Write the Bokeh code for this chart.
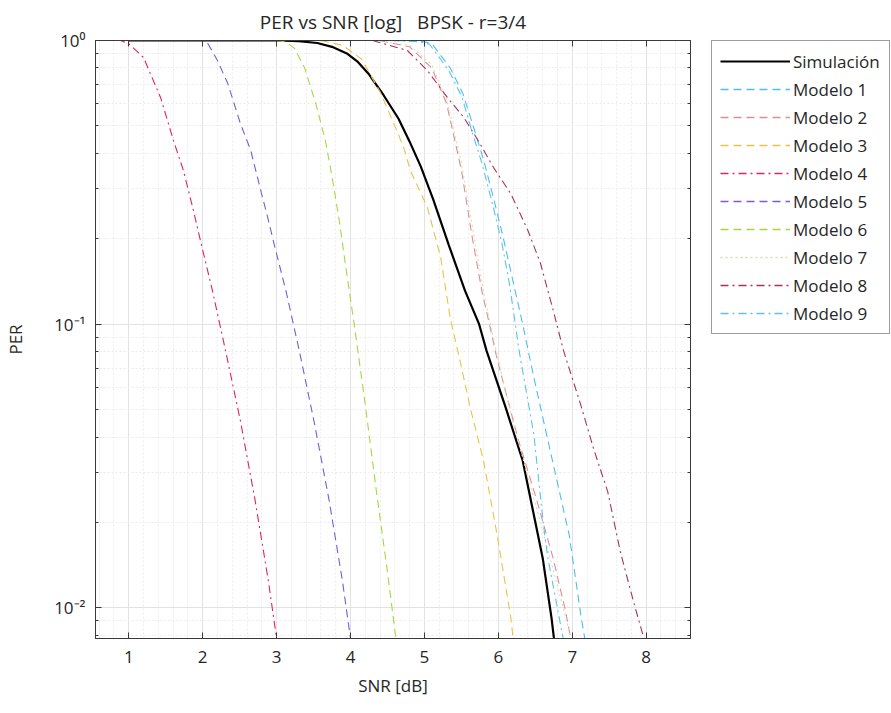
from bokeh.plotting import figure
from bokeh.layouts import row
from bokeh.models import (LinearAxis, LogAxis, FixedTicker, SingleIntervalTicker,
                          CustomJSTickFormatter, Legend, LegendItem, Range1d)
from bokeh.embed import file_html
from bokeh.resources import INLINE

# ---------------- data ----------------
sim_x = [1.0, 3.0, 3.3, 3.55, 3.75, 3.95, 4.1, 4.25, 4.45, 4.65, 4.8, 4.95, 5.12, 5.33, 5.55, 5.74, 5.84, 6.1, 6.33, 6.6, 6.72, 6.78]
sim_y = [1.0, 1.0, 0.995, 0.98, 0.95, 0.9, 0.84, 0.76, 0.64, 0.53, 0.44, 0.36, 0.275, 0.19, 0.131, 0.1, 0.0807, 0.0508, 0.033, 0.015, 0.0092, 0.0068]

m1_x = [4.6, 4.95, 5.1, 5.35, 5.52, 5.66, 5.8, 5.94, 6.07, 6.19, 6.33, 6.48, 6.7, 6.96, 7.12, 7.2]
m1_y = [1.0, 0.995, 0.976, 0.80, 0.65, 0.50, 0.38, 0.275, 0.2, 0.145, 0.1, 0.065, 0.036, 0.018, 0.0093, 0.007]

m2_x = [4.4, 4.8, 5.1, 5.3, 5.5, 5.65, 5.78, 5.88, 5.98, 6.26, 6.52, 6.74, 6.9, 6.98, 7.05]
m2_y = [1.0, 0.95, 0.8, 0.6, 0.35, 0.2, 0.13, 0.1, 0.076, 0.04, 0.024, 0.015, 0.01, 0.0078, 0.0068]

m3_x = [3.6, 3.9, 4.15, 4.4, 4.6, 4.72, 4.81, 5.04, 5.22, 5.35, 5.49, 5.62, 5.80, 5.99, 6.17, 6.2, 6.25]
m3_y = [1.0, 0.96, 0.86, 0.66, 0.5, 0.42, 0.348, 0.258, 0.172, 0.105, 0.0726, 0.0508, 0.033, 0.0177, 0.0092, 0.0078, 0.0065]

m4_x = [0.6, 0.888, 0.997, 1.20, 1.43, 1.605, 1.74, 1.876, 1.97, 2.13, 2.31, 2.51, 2.71, 2.89, 3.0, 3.08]
m4_y = [1.0, 1.0, 0.976, 0.871, 0.63, 0.444, 0.348, 0.251, 0.197, 0.132, 0.0806, 0.0457, 0.0239, 0.0124, 0.0078, 0.0055]

m5_x = [1.9, 2.0, 2.07, 2.2, 2.34, 2.51, 2.65, 2.78, 2.88, 2.97, 3.13, 3.31, 3.51, 3.71, 3.89, 4.0, 4.08]
m5_y = [1.0, 1.0, 0.976, 0.85, 0.705, 0.51, 0.41, 0.30, 0.238, 0.19, 0.13, 0.08, 0.045, 0.024, 0.0125, 0.0078, 0.0055]

m6_x = [3.0, 3.12, 3.24, 3.38, 3.53, 3.66, 3.76, 3.85, 3.95, 4.05, 4.2, 4.34, 4.49, 4.62, 4.68]
m6_y = [1.0, 0.99, 0.94, 0.80, 0.60, 0.444, 0.32, 0.23, 0.15, 0.1, 0.052, 0.027, 0.014, 0.0076, 0.006]

m7_x = [4.4, 4.8, 5.1, 5.3, 5.5, 5.65, 5.8, 5.95, 6.2, 6.45, 6.7, 6.9, 7.0]
m7_y = [1.0, 0.96, 0.82, 0.62, 0.37, 0.22, 0.13, 0.085, 0.045, 0.026, 0.015, 0.0095, 0.0075]

m8_x = [4.3, 4.77, 5.04, 5.31, 5.53, 5.72, 5.94, 6.17, 6.40, 6.57, 6.75, 6.88, 7.11, 7.29, 7.48, 7.65, 7.83, 7.97, 8.02]
m8_y = [1.0, 0.922, 0.784, 0.63, 0.537, 0.447, 0.355, 0.288, 0.214, 0.164, 0.11, 0.081, 0.0525, 0.0363, 0.0257, 0.0158, 0.0105, 0.0078, 0.0068]

m9_x = [4.55, 4.93, 5.07, 5.33, 5.51, 5.64, 5.78, 5.92, 6.05, 6.15, 6.23, 6.28, 6.48, 6.61, 6.67, 6.85, 6.95]
m9_y = [1.0, 0.99, 0.97, 0.784, 0.63, 0.481, 0.368, 0.266, 0.192, 0.139, 0.1, 0.081, 0.041, 0.0197, 0.015, 0.0085, 0.0062]

x_ticks = [1, 2, 3, 4, 5, 6, 7, 8]
y_ticks = [0.01, 0.1, 1.0]
y_minor = [m * d for d in (0.001, 0.01, 0.1) for m in range(2, 10)]

series = [
    ("Simulación", sim_x, sim_y, "#000000", 2.2, "solid"),
    ("Modelo 1", m1_x, m1_y, "#4DBEEE", 1.1, "8 5"),
    ("Modelo 2", m2_x, m2_y, "#D98E9A", 1.1, "8 5"),
    ("Modelo 3", m3_x, m3_y, "#EDC04A", 1.1, "8 5"),
    ("Modelo 4", m4_x, m4_y, "#E0245E", 1.1, "8 4 2 4"),
    ("Modelo 5", m5_x, m5_y, "#7B5BD6", 1.1, "8 5"),
    ("Modelo 6", m6_x, m6_y, "#A9D640", 1.1, "8 5"),
    ("Modelo 7", m7_x, m7_y, "#DCDCB0", 1.1, "2 3"),
    ("Modelo 8", m8_x, m8_y, "#A8325A", 1.1, "8 4 2 4"),
    ("Modelo 9", m9_x, m9_y, "#5BC3E6", 1.1, "8 4 2 4"),
]

FONT = "Open Sans"
AX = "#3a3a3a"
TXT = "#262626"

p = figure(frame_width=595, frame_height=598,
           x_range=(0.55, 8.6), y_range=(0.0078, 1.0), y_axis_type="log",
           output_backend="svg", toolbar_location=None,
           min_border_left=95, min_border_right=21, min_border_top=40, min_border_bottom=75)

p.title.text = "PER vs SNR [log]\u00a0\u00a0\u00a0BPSK - r=3/4"
p.title.align = "center"
p.title.text_font = FONT
p.title.text_font_size = "19px"
p.title.text_font_style = "normal"
p.title.text_color = TXT
p.title.standoff = 4

xt = SingleIntervalTicker(interval=1, num_minor_ticks=5)
yt = FixedTicker(ticks=y_ticks, minor_ticks=y_minor)
fmt = CustomJSTickFormatter(code="""
const sup = {"-": "\\u207b", "0": "\\u2070", "1": "\\u00b9", "2": "\\u00b2", "3": "\\u00b3"};
const e = Math.round(Math.log10(tick));
return "10" + String(e).split("").map(c => sup[c]).join("");
""")
blank = CustomJSTickFormatter(code='return "";')

xa = p.xaxis[0]
xa.ticker = xt
xa.axis_label = "SNR [dB]"
ya = p.yaxis[0]
ya.ticker = yt
ya.formatter = fmt
ya.axis_label = "PER"

for ax in (xa, ya):
    ax.axis_label_text_font = FONT
    ax.axis_label_text_font_size = "17px"
    ax.axis_label_text_font_style = "normal"
    ax.axis_label_text_color = TXT
    ax.major_label_text_font = FONT
    ax.major_label_text_font_size = "17px"
    ax.major_label_text_color = TXT
    ax.axis_line_color = AX
    ax.major_tick_line_color = AX
    ax.minor_tick_line_color = AX
    ax.major_tick_in = 6
    ax.major_tick_out = 0
    ax.minor_tick_in = 3
    ax.minor_tick_out = 0
xa.major_label_standoff = 12
xa.axis_label_standoff = 8
ya.major_label_standoff = 10
ya.axis_label_standoff = 24
xa.minor_tick_line_color = None

top = LinearAxis(ticker=xt, formatter=blank, major_label_text_font_size="8px", major_label_standoff=0,
                 major_tick_in=6, major_tick_out=0,
                 minor_tick_line_color=None, axis_line_color=AX, major_tick_line_color=AX)
right = LogAxis(ticker=yt, formatter=blank, major_label_text_font_size="8px", major_label_standoff=0,
                major_tick_in=6, major_tick_out=0,
                minor_tick_in=3, minor_tick_out=0, axis_line_color=AX, major_tick_line_color=AX,
                minor_tick_line_color=AX)
p.add_layout(top, "above")
p.add_layout(right, "right")

p.xgrid.grid_line_color = "#e2e2e2"
p.ygrid.grid_line_color = "#e2e2e2"
p.xgrid.minor_grid_line_color = "#ececec"
p.ygrid.minor_grid_line_color = "#ececec"
p.xgrid.minor_grid_line_dash = "2 2"
p.ygrid.minor_grid_line_dash = "2 2"
p.outline_line_color = AX

# legend panel: a companion figure whose view range lies outside the data,
# so only its legend shows
lf = figure(width=180, height=713, output_backend="svg", toolbar_location=None,
            x_range=Range1d(20, 21), y_range=Range1d(20, 21),
            x_axis_location=None, y_axis_location=None,
            min_border_left=0, min_border_right=0, min_border_top=40, min_border_bottom=0)
lf.outline_line_color = None
lf.grid.visible = False

items = []
for name, xs, ys, col, w, dash in series:
    p.line(xs, ys, line_color=col, line_width=w, line_dash=dash)
    r = lf.line(xs, ys, line_color=col, line_width=max(w, 1.6), line_dash=dash)
    items.append(LegendItem(label=name, renderers=[r]))

leg = Legend(items=items, location="top_left")
leg.border_line_color = AX
leg.border_line_width = 1
leg.background_fill_color = "white"
leg.padding = 8
leg.spacing = 4
leg.glyph_width = 70
leg.glyph_height = 24
leg.label_height = 24
leg.label_width = 88
leg.label_standoff = 3
leg.label_text_font = FONT
leg.label_text_font_size = "17px"
leg.label_text_color = TXT
leg.margin = 0
lf.add_layout(leg, "center")

open("out.html", "w").write(file_html(row(p, lf), INLINE))
